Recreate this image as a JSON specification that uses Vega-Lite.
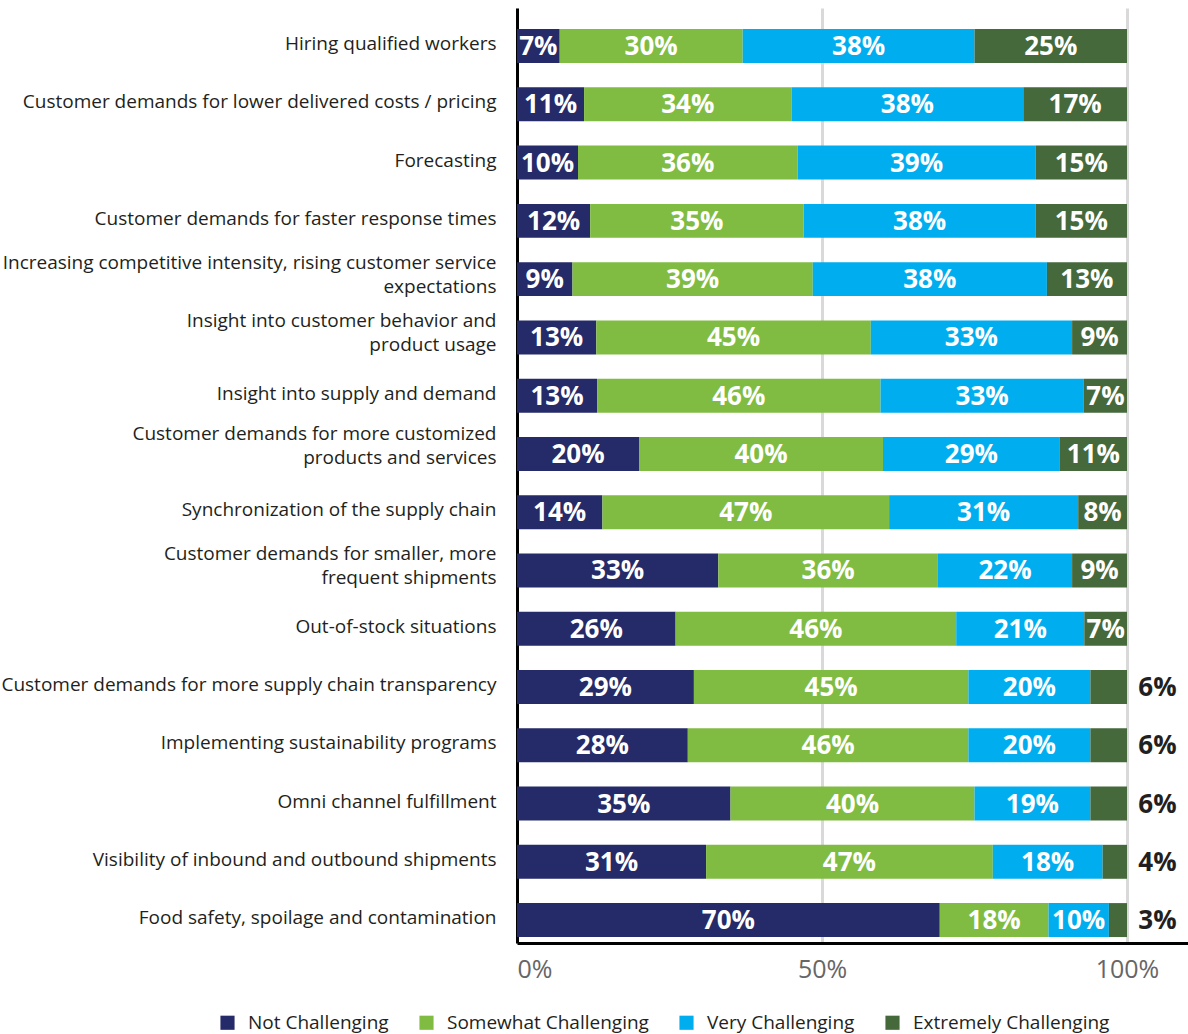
{
  "$schema": "https://vega.github.io/schema/vega-lite/v6.json",
  "width": 671,
  "height": 935,
  "autosize": {"type": "none"},
  "padding": {"left": 517, "top": 8, "right": 0, "bottom": 91},
  "background": "white",
  "config": {
    "view": {"stroke": null},
    "font": "Open Sans"
  },
  "data": {
    "values": [
      {"c": "Hiring qualified workers", "level": "Not Challenging", "v": 7},
      {"c": "Hiring qualified workers", "level": "Somewhat Challenging", "v": 30},
      {"c": "Hiring qualified workers", "level": "Very Challenging", "v": 38},
      {"c": "Hiring qualified workers", "level": "Extremely Challenging", "v": 25},
      {"c": "Customer demands for lower delivered costs / pricing", "level": "Not Challenging", "v": 11},
      {"c": "Customer demands for lower delivered costs / pricing", "level": "Somewhat Challenging", "v": 34},
      {"c": "Customer demands for lower delivered costs / pricing", "level": "Very Challenging", "v": 38},
      {"c": "Customer demands for lower delivered costs / pricing", "level": "Extremely Challenging", "v": 17},
      {"c": "Forecasting", "level": "Not Challenging", "v": 10},
      {"c": "Forecasting", "level": "Somewhat Challenging", "v": 36},
      {"c": "Forecasting", "level": "Very Challenging", "v": 39},
      {"c": "Forecasting", "level": "Extremely Challenging", "v": 15},
      {"c": "Customer demands for faster response times", "level": "Not Challenging", "v": 12},
      {"c": "Customer demands for faster response times", "level": "Somewhat Challenging", "v": 35},
      {"c": "Customer demands for faster response times", "level": "Very Challenging", "v": 38},
      {"c": "Customer demands for faster response times", "level": "Extremely Challenging", "v": 15},
      {"c": "Increasing competitive intensity, rising customer service expectations", "level": "Not Challenging", "v": 9},
      {"c": "Increasing competitive intensity, rising customer service expectations", "level": "Somewhat Challenging", "v": 39},
      {"c": "Increasing competitive intensity, rising customer service expectations", "level": "Very Challenging", "v": 38},
      {"c": "Increasing competitive intensity, rising customer service expectations", "level": "Extremely Challenging", "v": 13},
      {"c": "Insight into customer behavior and product usage", "level": "Not Challenging", "v": 13},
      {"c": "Insight into customer behavior and product usage", "level": "Somewhat Challenging", "v": 45},
      {"c": "Insight into customer behavior and product usage", "level": "Very Challenging", "v": 33},
      {"c": "Insight into customer behavior and product usage", "level": "Extremely Challenging", "v": 9},
      {"c": "Insight into supply and demand", "level": "Not Challenging", "v": 13},
      {"c": "Insight into supply and demand", "level": "Somewhat Challenging", "v": 46},
      {"c": "Insight into supply and demand", "level": "Very Challenging", "v": 33},
      {"c": "Insight into supply and demand", "level": "Extremely Challenging", "v": 7},
      {"c": "Customer demands for more customized products and services", "level": "Not Challenging", "v": 20},
      {"c": "Customer demands for more customized products and services", "level": "Somewhat Challenging", "v": 40},
      {"c": "Customer demands for more customized products and services", "level": "Very Challenging", "v": 29},
      {"c": "Customer demands for more customized products and services", "level": "Extremely Challenging", "v": 11},
      {"c": "Synchronization of the supply chain", "level": "Not Challenging", "v": 14},
      {"c": "Synchronization of the supply chain", "level": "Somewhat Challenging", "v": 47},
      {"c": "Synchronization of the supply chain", "level": "Very Challenging", "v": 31},
      {"c": "Synchronization of the supply chain", "level": "Extremely Challenging", "v": 8},
      {"c": "Customer demands for smaller, more frequent shipments", "level": "Not Challenging", "v": 33},
      {"c": "Customer demands for smaller, more frequent shipments", "level": "Somewhat Challenging", "v": 36},
      {"c": "Customer demands for smaller, more frequent shipments", "level": "Very Challenging", "v": 22},
      {"c": "Customer demands for smaller, more frequent shipments", "level": "Extremely Challenging", "v": 9},
      {"c": "Out-of-stock situations", "level": "Not Challenging", "v": 26},
      {"c": "Out-of-stock situations", "level": "Somewhat Challenging", "v": 46},
      {"c": "Out-of-stock situations", "level": "Very Challenging", "v": 21},
      {"c": "Out-of-stock situations", "level": "Extremely Challenging", "v": 7},
      {"c": "Customer demands for more supply chain transparency", "level": "Not Challenging", "v": 29},
      {"c": "Customer demands for more supply chain transparency", "level": "Somewhat Challenging", "v": 45},
      {"c": "Customer demands for more supply chain transparency", "level": "Very Challenging", "v": 20},
      {"c": "Customer demands for more supply chain transparency", "level": "Extremely Challenging", "v": 6},
      {"c": "Implementing sustainability programs", "level": "Not Challenging", "v": 28},
      {"c": "Implementing sustainability programs", "level": "Somewhat Challenging", "v": 46},
      {"c": "Implementing sustainability programs", "level": "Very Challenging", "v": 20},
      {"c": "Implementing sustainability programs", "level": "Extremely Challenging", "v": 6},
      {"c": "Omni channel fulfillment", "level": "Not Challenging", "v": 35},
      {"c": "Omni channel fulfillment", "level": "Somewhat Challenging", "v": 40},
      {"c": "Omni channel fulfillment", "level": "Very Challenging", "v": 19},
      {"c": "Omni channel fulfillment", "level": "Extremely Challenging", "v": 6},
      {"c": "Visibility of inbound and outbound shipments", "level": "Not Challenging", "v": 31},
      {"c": "Visibility of inbound and outbound shipments", "level": "Somewhat Challenging", "v": 47},
      {"c": "Visibility of inbound and outbound shipments", "level": "Very Challenging", "v": 18},
      {"c": "Visibility of inbound and outbound shipments", "level": "Extremely Challenging", "v": 4},
      {"c": "Food safety, spoilage and contamination", "level": "Not Challenging", "v": 70},
      {"c": "Food safety, spoilage and contamination", "level": "Somewhat Challenging", "v": 18},
      {"c": "Food safety, spoilage and contamination", "level": "Very Challenging", "v": 10},
      {"c": "Food safety, spoilage and contamination", "level": "Extremely Challenging", "v": 3}
    ]
  },
  "transform": [
    {"calculate": "indexof(['Not Challenging','Somewhat Challenging','Very Challenging','Extremely Challenging'], datum.level)", "as": "ord"},
    {"stack": "v", "groupby": ["c"], "sort": [{"field": "ord", "order": "ascending"}], "offset": "normalize", "as": ["x0", "x1"]},
    {"calculate": "(datum.x0 + datum.x1) / 2", "as": "xm"},
    {"calculate": "datum.v + '%'", "as": "lbl"}
  ],
  "encoding": {
    "y": {
      "field": "c",
      "type": "nominal",
      "sort": null,
      "scale": {"paddingInner": 0.417, "paddingOuter": 0.232, "align": 0.78},
      "axis": {
        "title": null,
        "ticks": false,
        "domainColor": "#000000",
        "domainWidth": 3,
        "labelFontSize": 19,
        "labelColor": "#231f20",
        "labelPadding": 21,
        "labelLimit": 520,
        "labelLineHeight": 24,
        "labelOffset": {
          "condition": [
            {"test": "datum.value == 'Customer demands for more customized products and services'", "value": -20},
            {
              "test": "indexof(['Increasing competitive intensity, rising customer service expectations','Insight into customer behavior and product usage','Customer demands for smaller, more frequent shipments'], datum.value) >= 0",
              "value": -16
            }
          ],
          "value": -2
        },
        "labelExpr": "datum.label == 'Increasing competitive intensity, rising customer service expectations' ? ['Increasing competitive intensity, rising customer service', 'expectations'] : datum.label == 'Insight into customer behavior and product usage' ? ['Insight into customer behavior and', 'product usage'] : datum.label == 'Customer demands for more customized products and services' ? ['Customer demands for more customized', 'products and services'] : datum.label == 'Customer demands for smaller, more frequent shipments' ? ['Customer demands for smaller, more', 'frequent shipments'] : datum.label"
      }
    }
  },
  "layer": [
    {
      "mark": {"type": "bar"},
      "encoding": {
        "x": {
          "field": "x0",
          "type": "quantitative",
          "scale": {"domain": [0, 1.1], "nice": false},
          "axis": {
            "title": null,
            "values": [0, 0.5, 1],
            "format": ".0%",
            "ticks": false,
            "grid": true,
            "gridColor": "#d9d9d9",
            "gridWidth": 3,
            "domainColor": "#000000",
            "domainWidth": 3,
            "labelFontSize": 25,
            "labelColor": "#666666",
            "labelPadding": 14,
            "labelFlush": true,
            "zindex": 0
          }
        },
        "x2": {"field": "x1"},
        "color": {
          "field": "level",
          "type": "nominal",
          "scale": {
            "domain": ["Not Challenging", "Somewhat Challenging", "Very Challenging", "Extremely Challenging"],
            "range": ["#252a68", "#80bc42", "#00aeef", "#45693b"]
          },
          "legend": {
            "title": null,
            "orient": "none",
            "direction": "horizontal",
            "legendX": -299,
            "legendY": 1005,
            "symbolType": "square",
            "symbolSize": 200,
            "symbolStrokeWidth": 0,
            "labelFontSize": 19,
            "labelLimit": 400,
            "labelColor": "#231f20",
            "labelOffset": 11,
            "columnPadding": 28
          }
        }
      }
    },
    {
      "transform": [{"filter": "!(datum.level == 'Extremely Challenging' && datum.v < 7)"}],
      "mark": {"type": "text", "color": "white", "fontWeight": "bold", "fontSize": 26, "align": "center", "baseline": "middle", "dy": 1},
      "encoding": {
        "x": {"field": "xm", "type": "quantitative"},
        "text": {"field": "lbl"}
      }
    },
    {
      "transform": [{"filter": "datum.level == 'Extremely Challenging' && datum.v < 7"}],
      "mark": {"type": "text", "color": "#231f20", "fontWeight": "bold", "fontSize": 26, "align": "center", "baseline": "middle", "dy": 1},
      "encoding": {
        "x": {"datum": 1.05},
        "text": {"field": "lbl"}
      }
    }
  ]
}
